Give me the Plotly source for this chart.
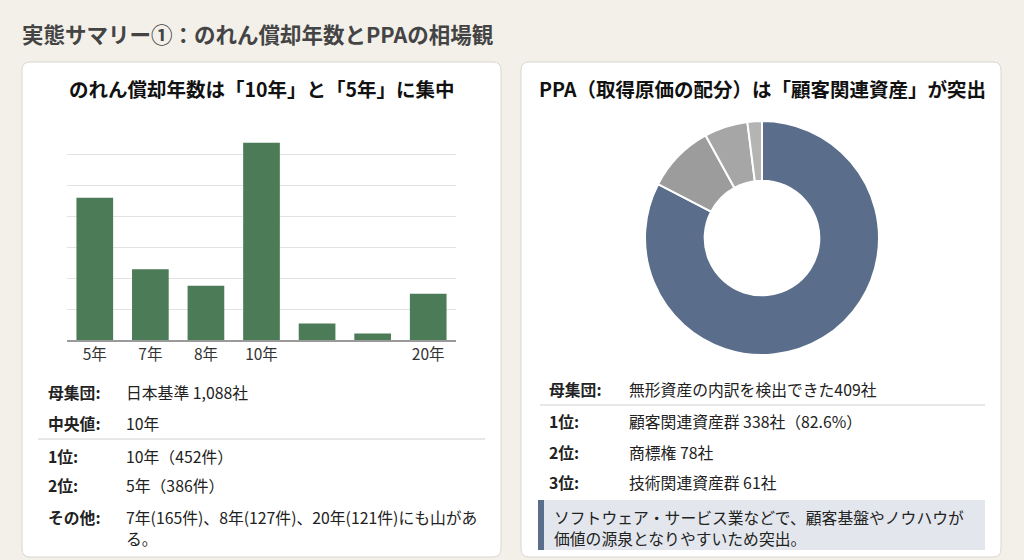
import plotly.graph_objects as go

W, H = 1024, 560
FONT = "Noto Sans CJK JP"

# bar chart: amortization years (heights)
year_labels = ["5年", "7年", "8年", "10年", "", "", "20年"]
year_counts = [326, 162, 124, 452, 38, 15, 106]

# donut: PPA allocation shares (%)
ppa_labels = ["顧客関連資産群", "商標権", "技術関連資産群", "その他"]
ppa_values = [82.6, 9.4, 6.0, 2.0]
ppa_colors = ["#5a6e8b", "#9c9c9c", "#a6a6a6", "#b4b4b4"]

left_rows = [("母集団:", ["日本基準 1,088社"]), ("中央値:", ["10年"]),
             ("1位:", ["10年（452件）"]), ("2位:", ["5年（386件）"]),
             ("その他:", ["7年(165件)、8年(127件)、20年(121件)にも山があ", "る。"])]
right_rows = [("母集団:", "無形資産の内訳を検出できた409社"),
              ("1位:", "顧客関連資産群 338社（82.6%）"),
              ("2位:", "商標権 78社"), ("3位:", "技術関連資産群 61社")]
callout = ["ソフトウェア・サービス業などで、顧客基盤やノウハウが", "価値の源泉となりやすいため突出。"]

BG = "#f3f0ea"


def px(x):
    return x / W


def py(y):
    return 1 - y / H


def rounded_rect(x0, y0, x1, y1, r):
    # path in paper coords built from pixel coords
    pts = [
        f"M {px(x0 + r)},{py(y0)}", f"L {px(x1 - r)},{py(y0)}",
        f"Q {px(x1)},{py(y0)} {px(x1)},{py(y0 + r)}", f"L {px(x1)},{py(y1 - r)}",
        f"Q {px(x1)},{py(y1)} {px(x1 - r)},{py(y1)}", f"L {px(x0 + r)},{py(y1)}",
        f"Q {px(x0)},{py(y1)} {px(x0)},{py(y1 - r)}", f"L {px(x0)},{py(y0 + r)}",
        f"Q {px(x0)},{py(y0)} {px(x0 + r)},{py(y0)}", "Z",
    ]
    return " ".join(pts)


fig = go.Figure()

idx = list(range(len(year_labels)))
fig.add_trace(go.Bar(x=idx, y=year_counts, marker=dict(color="#4b7b57", line=dict(width=0)),
                     hoverinfo="y", showlegend=False))

fig.add_trace(go.Pie(labels=ppa_labels, values=ppa_values, hole=0.49, sort=False,
                     direction="clockwise", rotation=0,
                     marker=dict(colors=ppa_colors, line=dict(color="white", width=2)),
                     textinfo="none", showlegend=False,
                     domain=dict(x=[px(645), px(879)], y=[py(355), py(121)])))

shapes = []
for x0, x1 in [(22, 501), (521, 1001)]:
    shapes.append(dict(type="path", xref="paper", yref="paper", path=rounded_rect(x0, 62, x1, 557, 8),
                       fillcolor="white", line=dict(color="#d9d6d0", width=1), layer="below"))
shapes.append(dict(type="line", xref="paper", yref="paper", x0=px(38), x1=px(485), y0=py(439), y1=py(439),
                   line=dict(color="#cfcfcf", width=1)))
shapes.append(dict(type="line", xref="paper", yref="paper", x0=px(540), x1=px(985), y0=py(405), y1=py(405),
                   line=dict(color="#cfcfcf", width=1)))
shapes.append(dict(type="rect", xref="paper", yref="paper", x0=px(538), x1=px(985), y0=py(550), y1=py(500),
                   fillcolor="#e3e7ed", line=dict(width=0)))
shapes.append(dict(type="rect", xref="paper", yref="paper", x0=px(538), x1=px(544), y0=py(550), y1=py(500),
                   fillcolor="#5a6e8b", line=dict(width=0)))

ann = []


def text(x, y, s, size=15.8, bold=False, color="#222", anchor="left"):
    ann.append(dict(xref="paper", yref="paper", x=px(x), y=py(y), text=f"<b>{s}</b>" if bold else s,
                    showarrow=False, xanchor=anchor, yanchor="middle", align="left",
                    font=dict(family=FONT, size=size, color=color)))


text(20, 33, "実態サマリー①：のれん償却年数とPPAの相場観", size=21.5, bold=True, color="#444444")
text(262, 88, "のれん償却年数は「10年」と「5年」に集中", size=19.5, bold=True, color="#111", anchor="center")
text(762, 88, "PPA（取得原価の配分）は「顧客関連資産」が突出", size=19.5, bold=True, color="#111", anchor="center")

left_y = [392, 423, 456, 485, 517]
for (lab, lines), y in zip(left_rows, left_y):
    text(46, y, lab, bold=True)
    for i, line in enumerate(lines):
        text(124, y + 21 * i, line)

right_y = [389, 421, 452, 482]
for (lab, val), y in zip(right_rows, right_y):
    text(547, y, lab, bold=True)
    text(627, y, val)

for i, line in enumerate(callout):
    text(552, 517 + 21 * i, line)

fig.update_layout(
    width=W, height=H, margin=dict(l=0, r=0, t=0, b=0),
    paper_bgcolor=BG, plot_bgcolor="rgba(0,0,0,0)",
    shapes=shapes, annotations=ann, bargap=0.34,
    font=dict(family=FONT),
    xaxis=dict(domain=[px(67), px(456)], range=[-0.5, len(year_labels) - 0.5],
               tickvals=idx, ticktext=year_labels, showgrid=False, zeroline=False,
               showline=True, linecolor="#9a9a9a", linewidth=1.5, ticks="",
               tickfont=dict(family=FONT, size=15.5, color="#333"), fixedrange=True),
    yaxis=dict(domain=[py(340), py(123)], range=[0, 497], dtick=71, showticklabels=False,
               gridcolor="#e2e2e2", gridwidth=1, zeroline=False, fixedrange=True),
)

# drop the default page margin so the figure fills the window
fig.write_html("out.html", config={"displayModeBar": False},
               post_script=f"document.body.style.margin='0';document.body.style.background='{BG}';")
